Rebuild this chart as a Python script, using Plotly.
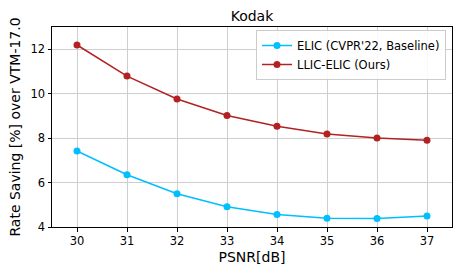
import plotly.graph_objects as go

psnr = [30, 31, 32, 33, 34, 35, 36, 37]
elic = [7.42, 6.35, 5.50, 4.91, 4.56, 4.39, 4.38, 4.49]
llic = [12.19, 10.79, 9.76, 9.02, 8.53, 8.19, 8.00, 7.90]
x_ticks = [30, 31, 32, 33, 34, 35, 36, 37]
y_ticks = [4, 6, 8, 10, 12]

fig = go.Figure()
fig.add_trace(go.Scatter(x=psnr, y=elic, mode="lines+markers", name="ELIC (CVPR'22, Baseline)",
                         line=dict(color="#00bfff", width=1.5), marker=dict(size=7, color="#00bfff")))
fig.add_trace(go.Scatter(x=psnr, y=llic, mode="lines+markers", name="LLIC-ELIC (Ours)",
                         line=dict(color="#b22222", width=1.5), marker=dict(size=7, color="#b22222")))

axis_common = dict(showline=True, linecolor="black", linewidth=1, mirror=True,
                   showgrid=True, gridcolor="#cfcfcf", gridwidth=1,
                   ticks="outside", ticklen=3.5, tickcolor="black",
                   tickfont=dict(size=11.5, color="black"), zeroline=False)

fig.update_layout(
    width=461, height=275,
    margin=dict(l=52, r=9, t=27, b=48),
    paper_bgcolor="white", plot_bgcolor="white",
    font=dict(family="DejaVu Sans", color="black"),
    title=dict(text="Kodak", xref="paper", x=0.5, xanchor="center", y=0.942, yanchor="middle",
               font=dict(size=14, color="black")),
    xaxis=dict(range=[29.5, 37.5], tickvals=x_ticks,
               title=dict(text="PSNR[dB]", font=dict(size=14), standoff=4), **axis_common),
    yaxis=dict(range=[4, 13], tickvals=y_ticks,
               title=dict(text="Rate Saving [%] over VTM-17.0", font=dict(size=14), standoff=6), **axis_common),
    legend=dict(x=0.985, y=0.985, xanchor="right", yanchor="top",
                bgcolor="rgba(255,255,255,0.85)", bordercolor="#cccccc", borderwidth=1,
                font=dict(size=11.5), tracegroupgap=0, itemwidth=30),
    showlegend=True,
)

fig.write_html("out.html", config={"displayModeBar": False},
               post_script="document.body.style.margin='0';")
